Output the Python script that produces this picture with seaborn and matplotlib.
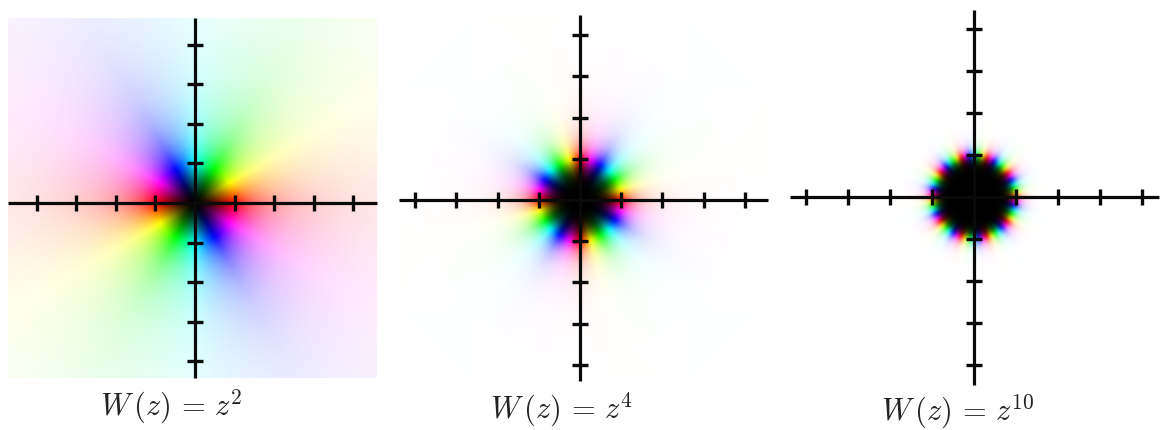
import numpy as np
import seaborn as sns
import matplotlib.pyplot as plt

# exponents of W(z) = z^n and the unit marks on both axes
exponents = [2, 4, 10]
captions = [r'$W\,(z)\,=\,z^{2}$', r'$W\,(z)\,=\,z^{4}$', r'$W\,(z)\,=\,z^{10}$']
tick_values = [-4, -3, -2, -1, 1, 2, 3, 4]

# panel layout in pixels: left, right, top, bottom of picture, then origin and tick spacing
panel_px = [
    (8, 377, 18, 378, 195, 203, 39.6),
    (399, 768, 15, 381, 580, 200, 41.2),
    (790, 1159, 10, 385, 974, 197, 41.9),
]
caption_px = [(171, 415), (561, 418), (958, 420)]
# how fast each picture fades to white
fade_power = [0.85, 1.0, 1.0]

W_PX, H_PX = 1162, 430


def hsl_to_rgb(h, l):
    c = 1 - np.abs(2 * l - 1)
    out = []
    for k in (0, 4, 2):
        f = np.clip(np.abs((h * 6 + k) % 6 - 3) - 1, 0, 1)
        out.append(l + c * (f - 0.5))
    return np.stack(out, axis=-1)


def soften(rgb):
    # the source is a soft, low resolution scan
    kernel = np.array([1, 2, 3, 4, 3, 2, 1]) / 16
    pad = np.pad(rgb, ((3, 3), (3, 3), (0, 0)), mode='edge')
    pad = np.apply_along_axis(lambda a: np.convolve(a, kernel, mode='same'), 0, pad)
    pad = np.apply_along_axis(lambda a: np.convolve(a, kernel, mode='same'), 1, pad)
    return np.clip(pad[3:-3, 3:-3], 0, 1)


def domain_colors(n, power, xs, ys):
    x, y = np.meshgrid(xs, ys)
    w = (x + 1j * y) ** n
    hue = (np.angle(w) / (2 * np.pi)) % 1
    light = 2 / np.pi * np.arctan(np.abs(w) ** power)
    return soften(hsl_to_rgb(hue, light))


def draw_panel(fig, n, power, px):
    left, right, top, bottom, ox, oy, unit = px
    ax = fig.add_axes([left / W_PX, 1 - bottom / H_PX, (right - left) / W_PX, (bottom - top) / H_PX])
    ncol, nrow = int(right - left), int(bottom - top)
    xs = (left + np.arange(ncol) + 0.5 - ox) / unit
    ys = (oy - top - np.arange(nrow) - 0.5) / unit
    rgb = domain_colors(n, power, xs, ys)

    sns.heatmap(np.zeros((nrow, ncol)), cbar=False, xticklabels=False, yticklabels=False, ax=ax)
    mesh = ax.collections[0]
    mesh.set_array(None)
    mesh.set_facecolor(rgb.reshape(-1, 3))
    mesh.set_edgecolor('face')

    # axes through the origin, heatmap coordinates are pixels here
    sns.despine(ax=ax, top=True, right=True)
    ax.set_axisbelow(False)
    ax.spines['left'].set_visible(True)
    ax.spines['bottom'].set_visible(True)
    ax.spines['left'].set_position(('data', ox - left))
    ax.spines['bottom'].set_position(('data', oy - top))
    for side in ('left', 'bottom'):
        ax.spines[side].set_linewidth(2.3)
        ax.spines[side].set_color('#0a0a0a')
        ax.spines[side].set_capstyle('butt')
    ax.set_xticks([ox - left + t * unit for t in tick_values])
    ax.set_yticks([oy - top - t * unit for t in tick_values])
    ax.tick_params(axis='both', direction='inout', length=11.5, width=2.4, color='#0a0a0a',
                   labelbottom=False, labelleft=False, bottom=True, left=True)
    return ax


if __name__ == '__main__':
    sns.set_style('white')
    plt.rcParams['mathtext.fontset'] = 'cm'

    fig = plt.figure(figsize=(W_PX / 100, H_PX / 100), dpi=100)
    for n, power, px in zip(exponents, fade_power, panel_px):
        draw_panel(fig, n, power, px)
    for text, (cx, cy) in zip(captions, caption_px):
        fig.text(cx / W_PX, 1 - cy / H_PX, text, fontsize=22, ha='center', va='baseline', color='#222222')
    fig.savefig('out.png', dpi=100)
